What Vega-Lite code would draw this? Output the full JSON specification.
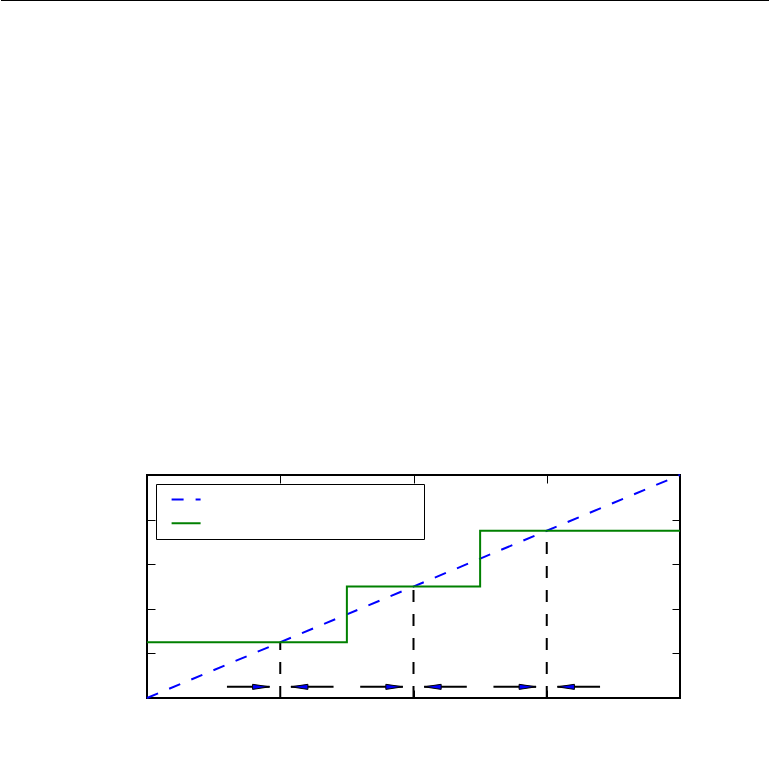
{
  "$schema": "https://vega.github.io/schema/vega-lite/v6.json",
  "padding": 0,
  "background": "white",
  "config": {
    "view": {"stroke": null},
    "axis": {"labels": false, "domain": false, "title": null, "grid": false, "tickSize": -8, "tickColor": "black", "tickWidth": 1, "minExtent": 0, "maxExtent": 0},
    "legend": {"labelFont": "DejaVu Sans", "orient": "top-left", "offset": 9, "symbolType": "M0,0H5.8", "symbolSize": 100, "symbolStrokeWidth": 2, "padding": 9, "rowPadding": 9.6, "labelOffset": 4, "labelOpacity": 0, "labelFontSize": 13.2, "labelLimit": 400, "strokeColor": "black", "fillColor": "white", "titleFontSize": 0, "titlePadding": 0}
  },
  "spacing": 469,
  "resolve": {"legend": {"color": "independent", "strokeDash": "independent"}},
  "vconcat": [
    {
      "width": 768,
      "height": 1,
      "data": {"values": [{"edge": 0.5}]},
      "mark": {"type": "rule", "color": "black", "strokeWidth": 1},
      "encoding": {"y": {"field": "edge", "type": "quantitative", "scale": {"domain": [0, 1]}, "axis": null}}
    },
    {
      "spacing": 0,
      "resolve": {"legend": {"color": "independent", "strokeDash": "independent"}},
      "hconcat": [
        {
          "width": 141,
          "height": 1,
          "data": {"values": []},
          "mark": "point",
          "encoding": {}
        },
        {
          "width": 533,
          "height": 223,
          "view": {"stroke": "black", "strokeWidth": 2},
          "layer": [
            {
              "data": {"values": [{"x": 1, "bottom": 0, "top": 1.25}, {"x": 2, "bottom": 0, "top": 2.5}, {"x": 3, "bottom": 0, "top": 3.75}]},
              "mark": {"type": "rule", "color": "black", "strokeWidth": 2, "strokeDash": [12, 12]},
              "encoding": {
                "x": {"field": "x", "type": "quantitative", "scale": {"domain": [0, 4], "nice": false, "zero": false}, "axis": {"orient": "bottom", "values": [1, 2, 3]}},
                "y": {"field": "bottom", "type": "quantitative", "scale": {"domain": [0, 5], "nice": false}, "axis": {"orient": "left", "values": [1, 2, 3, 4]}},
                "y2": {"field": "top"}
              }
            },
            {
              "data": {"values": [{"x": 0, "y": 0, "series": "Continuous analog input signal x(t)"}, {"x": 4, "y": 5, "series": "Continuous analog input signal x(t)"}]},
              "mark": {"type": "line", "strokeWidth": 2, "interpolate": "linear"},
              "encoding": {
                "x": {"field": "x", "type": "quantitative", "scale": {"domain": [0, 4], "nice": false, "zero": false}, "axis": {"orient": "top", "values": [1, 2, 3]}},
                "y": {"field": "y", "type": "quantitative", "scale": {"domain": [0, 5], "nice": false}, "axis": {"orient": "right", "values": [1, 2, 3, 4]}},
                "color": {"field": "series", "type": "nominal", "scale": {"domain": ["Continuous analog input signal x(t)", "Quantized output Q(x)"], "range": ["#0000ff", "#008000"]}, "legend": {"title": null}},
                "strokeDash": {"field": "series", "type": "nominal", "scale": {"domain": ["Continuous analog input signal x(t)", "Quantized output Q(x)"], "range": [[12, 12], [1, 0]]}, "legend": {"title": null}}
              }
            },
            {
              "data": {"values": [{"x": 0, "y": 1.25, "series": "Quantized output Q(x)"}, {"x": 1.5, "y": 2.5, "series": "Quantized output Q(x)"}, {"x": 2.5, "y": 3.75, "series": "Quantized output Q(x)"}, {"x": 4, "y": 3.75, "series": "Quantized output Q(x)"}]},
              "mark": {"type": "line", "strokeWidth": 2, "interpolate": "step-after"},
              "encoding": {
                "x": {"field": "x", "type": "quantitative", "scale": {"domain": [0, 4], "nice": false, "zero": false}, "axis": null},
                "y": {"field": "y", "type": "quantitative", "scale": {"domain": [0, 5], "nice": false}, "axis": null},
                "color": {"field": "series", "type": "nominal", "scale": {"domain": ["Continuous analog input signal x(t)", "Quantized output Q(x)"], "range": ["#0000ff", "#008000"]}, "legend": {"title": null}},
                "strokeDash": {"field": "series", "type": "nominal", "scale": {"domain": ["Continuous analog input signal x(t)", "Quantized output Q(x)"], "range": [[12, 12], [1, 0]]}, "legend": {"title": null}}
              }
            },
            {
              "data": {"values": [
                {"tail": 0.6, "tip": 0.92, "level": 0.25, "dir": "right"},
                {"tail": 1.4, "tip": 1.08, "level": 0.25, "dir": "left"},
                {"tail": 1.6, "tip": 1.92, "level": 0.25, "dir": "right"},
                {"tail": 2.4, "tip": 2.08, "level": 0.25, "dir": "left"},
                {"tail": 2.6, "tip": 2.92, "level": 0.25, "dir": "right"},
                {"tail": 3.4, "tip": 3.08, "level": 0.25, "dir": "left"}
              ]},
              "layer": [
                {
                  "mark": {"type": "rule", "color": "black", "strokeWidth": 2},
                  "encoding": {
                    "x": {"field": "tail", "type": "quantitative", "scale": {"domain": [0, 4], "nice": false, "zero": false}, "axis": null},
                    "x2": {"field": "tip"},
                    "y": {"field": "level", "type": "quantitative", "scale": {"domain": [0, 5], "nice": false}, "axis": null}
                  }
                },
                {
                  "mark": {"type": "point", "filled": true, "fill": "#0000ff", "stroke": "black", "strokeWidth": 1, "size": 289, "opacity": 1},
                  "encoding": {
                    "x": {"field": "tip", "type": "quantitative", "scale": {"domain": [0, 4], "nice": false, "zero": false}, "axis": null},
                    "y": {"field": "level", "type": "quantitative", "scale": {"domain": [0, 5], "nice": false}, "axis": null},
                    "shape": {"field": "dir", "type": "nominal", "scale": {"domain": ["right", "left"], "range": ["M-2,-0.3L0,0L-2,0.3Z", "M2,-0.3L0,0L2,0.3Z"]}, "legend": null}
                  }
                }
              ]
            }
          ],
          "resolve": {"axis": {"x": "independent", "y": "independent"}}
        }
      ]
    }
  ]
}
